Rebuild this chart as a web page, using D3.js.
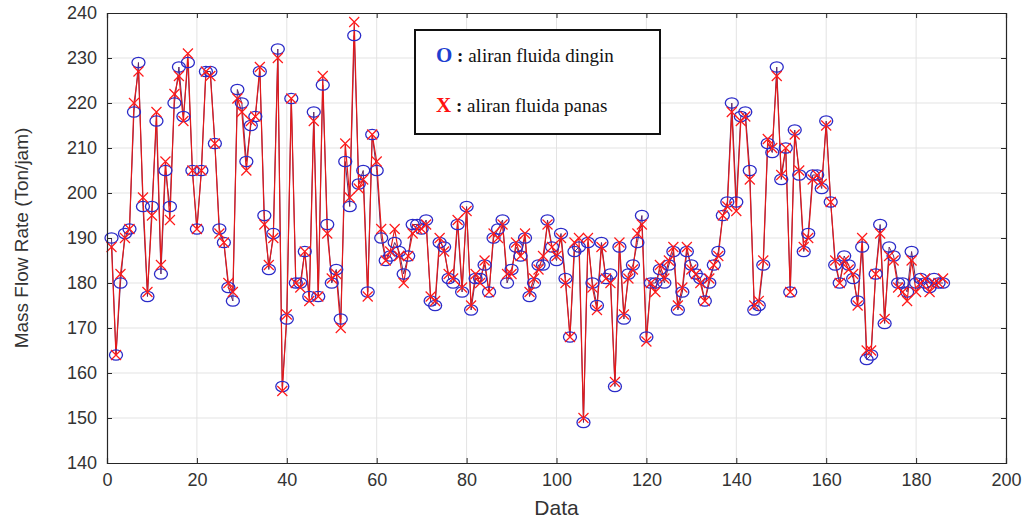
<!DOCTYPE html>
<html>
<head>
<meta charset="utf-8">
<script src="https://cdn.jsdelivr.net/npm/d3@7"></script>
<style>
  html, body { margin: 0; padding: 0; background: #fff; }
  svg { display: block; }
</style>
</head>
<body>
<svg id="chart" width="1034" height="522"></svg>
<script>
// ---- data ----
const dinginValues = [190,164,180,191,192,218,229,197,177,197,216,182,205,197,220,228,217,229,205,192,
  205,227,227,211,192,189,179,176,223,220,207,215,217,227,195,183,191,232,157,172,
  221,180,180,187,177,218,177,224,193,180,183,172,207,197,235,202,205,178,213,205,
  190,185,186,189,187,182,186,193,193,192,194,176,175,189,188,181,180,193,178,197,
  174,181,181,184,178,190,192,194,180,183,188,186,190,177,180,184,184,194,188,185,
  191,181,168,187,188,149,189,180,175,189,181,182,157,188,172,182,184,189,195,168,
  180,180,183,180,184,187,174,178,187,184,182,181,176,180,184,187,195,198,220,198,
  217,218,205,174,175,184,211,209,228,203,210,178,214,204,187,191,204,204,201,216,
  198,184,180,186,184,181,176,188,163,164,182,193,171,188,186,180,180,178,187,180,
  181,180,179,181,180,180];
const panasValues = [188,164,182,190,192,220,227,199,178,195,218,184,207,194,222,226,216,231,205,192,
  205,227,226,211,191,189,180,178,221,218,205,216,217,228,193,184,190,230,156,173,
  221,180,179,187,176,216,177,226,191,181,182,170,211,199,238,201,203,177,213,207,
  192,185,187,192,186,180,186,191,192,192,193,177,176,190,187,182,181,194,179,196,
  175,182,180,185,178,191,190,193,182,182,189,186,191,178,181,183,186,193,188,186,
  190,180,168,189,190,150,190,179,174,188,181,180,158,189,173,181,183,191,193,167,
  180,178,184,181,185,188,175,179,188,183,182,180,176,181,184,186,195,197,218,196,
  216,217,203,175,176,185,212,210,226,204,210,178,213,205,188,190,203,204,202,215,
  198,185,180,185,183,182,175,190,165,165,182,191,172,186,185,179,178,176,185,178,
  180,181,178,180,180,181];
const xTicks = [0,20,40,60,80,100,120,140,160,180,200];
const yTicks = [140,150,160,170,180,190,200,210,220,230,240];
const legendLabels = ["aliran fluida dingin", "aliran fluida panas"];
const legendSymbols = ["O", "X"];

// ---- layout ----
const L = 107, R = 1006, T = 13, B = 463;
const svg = d3.select("#chart");
const x = d3.scaleLinear().domain([0, 200]).range([L, R]);
const y = d3.scaleLinear().domain([140, 240]).range([B, T]);

const dingin = dinginValues.map((v, i) => ({ i: i + 1, v }));
const panas = panasValues.map((v, i) => ({ i: i + 1, v }));

// grid
const grid = svg.append("g");
grid.selectAll("line.gx").data(xTicks.slice(1, -1)).join("line")
  .attr("x1", d => x(d)).attr("x2", d => x(d)).attr("y1", T).attr("y2", B)
  .attr("stroke", "#e3e3e3").attr("stroke-width", 1);
grid.selectAll("line.gy").data(yTicks.slice(1, -1)).join("line")
  .attr("y1", d => y(d)).attr("y2", d => y(d)).attr("x1", L).attr("x2", R)
  .attr("stroke", "#e3e3e3").attr("stroke-width", 1);

// lines
const line = d3.line().x(d => x(d.i)).y(d => y(d.v));
svg.append("path").datum(dingin).attr("d", line)
  .attr("fill", "none").attr("stroke", "#5a2a6a").attr("stroke-width", 1);
svg.append("path").datum(panas).attr("d", line)
  .attr("fill", "none").attr("stroke", "#e31a1a").attr("stroke-width", 1.2);

// markers
svg.append("g").selectAll("ellipse").data(dingin).join("ellipse")
  .attr("cx", d => x(d.i)).attr("cy", d => y(d.v))
  .attr("rx", 6.5).attr("ry", 5.2)
  .attr("fill", "none").attr("stroke", "#2b2bc8").attr("stroke-width", 1.3);
const s = 5;
svg.append("g").selectAll("path").data(panas).join("path")
  .attr("d", d => {
    const cx = x(d.i), cy = y(d.v);
    return `M${cx - s},${cy - s}L${cx + s},${cy + s}M${cx - s},${cy + s}L${cx + s},${cy - s}`;
  })
  .attr("stroke", "#ff1a1a").attr("stroke-width", 1.2).attr("fill", "none");

// axes (MATLAB-like box with inward ticks)
const axisColor = "#262626";
const xAxis = svg.append("g").attr("transform", `translate(0,${B})`)
  .call(d3.axisBottom(x).tickValues(xTicks).tickSize(-5).tickPadding(10));
const xAxisTop = svg.append("g").attr("transform", `translate(0,${T})`)
  .call(d3.axisTop(x).tickValues(xTicks).tickSize(-5).tickFormat(""));
const yAxis = svg.append("g").attr("transform", `translate(${L},0)`)
  .call(d3.axisLeft(y).tickValues(yTicks).tickSize(-5).tickPadding(10));
const yAxisRight = svg.append("g").attr("transform", `translate(${R},0)`)
  .call(d3.axisRight(y).tickValues(yTicks).tickSize(-5).tickFormat(""));
[xAxis, xAxisTop, yAxis, yAxisRight].forEach(g => {
  g.select(".domain").attr("stroke", axisColor).attr("stroke-width", 1.2);
  g.selectAll(".tick line").attr("stroke", axisColor);
  g.selectAll("text").attr("fill", "#333")
    .style("font-family", "'Liberation Sans Narrow', 'Liberation Sans', Arial, sans-serif")
    .style("font-size", "18px");
});

// axis titles
svg.append("text").attr("x", (L + R) / 2).attr("y", 515)
  .attr("text-anchor", "middle").attr("fill", "#333")
  .style("font-family", "'Liberation Sans', Arial, sans-serif").style("font-size", "21px")
  .text("Data");
svg.append("text").attr("transform", `translate(28,${(T + B) / 2}) rotate(-90)`)
  .attr("text-anchor", "middle").attr("fill", "#333")
  .style("font-family", "'Liberation Sans Narrow', 'Liberation Sans', Arial, sans-serif").style("font-size", "19px")
  .text("Mass Flow Rate (Ton/jam)");

// legend
const lg = svg.append("g");
lg.append("rect").attr("x", 415).attr("y", 30).attr("width", 245).attr("height", 104)
  .attr("fill", "#fff").attr("stroke", "#111").attr("stroke-width", 2);
const symColors = ["#1e3fd0", "#ff1010"];
legendLabels.forEach((lab, k) => {
  const t = lg.append("text").attr("x", 436).attr("y", 62 + k * 50)
    .style("font-family", "'Liberation Serif', 'Times New Roman', serif").style("font-size", "19px")
    .attr("fill", "#111");
  t.append("tspan").attr("fill", symColors[k]).attr("font-weight", "bold").style("font-size", "21px").text(legendSymbols[k]);
  t.append("tspan").attr("font-weight", "bold").text(" : ");
  t.append("tspan").text(lab);
});
</script>
</body>
</html>
